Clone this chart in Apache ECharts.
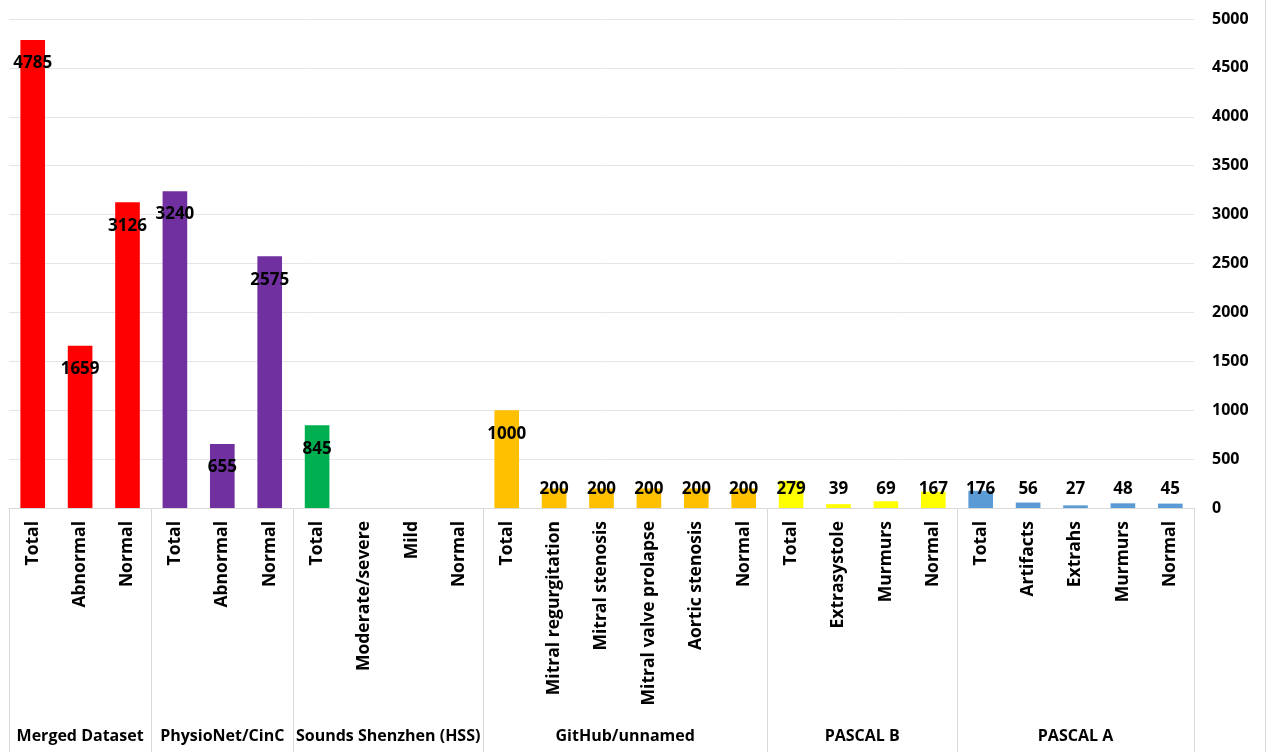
<!DOCTYPE html>
<html>
<head>
<meta charset="utf-8">
<title>Heart sound datasets</title>
<script src="https://cdn.jsdelivr.net/npm/echarts@6/dist/echarts.min.js"></script>
<style>
  html, body { margin: 0; padding: 0; background: #fff; }
  #chart { width: 1265px; height: 752px; border-right: 1px solid #d9d9d9; }
</style>
</head>
<body>
<div id="chart"></div>
<script>
// groups of bars, left to right
const groupNames = ['Merged Dataset', 'PhysioNet/CinC', 'Sounds Shenzhen (HSS)', 'GitHub/unnamed', 'PASCAL B', 'PASCAL A']
const groupSizes = [3, 3, 4, 6, 4, 5]
const groupColors = ['#ff0000', '#7030a0', '#00b050', '#ffc000', '#ffff00', '#5b9bd5']

// x axis categories
const categories = [
  'Total', 'Abnormal', 'Normal',
  'Total', 'Abnormal', 'Normal',
  'Total', 'Moderate/severe', 'Mild', 'Normal',
  'Total', 'Mitral regurgitation', 'Mitral stenosis', 'Mitral valve prolapse', 'Aortic stenosis', 'Normal',
  'Total', 'Extrasystole', 'Murmurs', 'Normal',
  'Total', 'Artifacts', 'Extrahs', 'Murmurs', 'Normal'
]
// number of recordings
const values = [
  4785, 1659, 3126,
  3240, 655, 2575,
  845, null, null, null,
  1000, 200, 200, 200, 200, 200,
  279, 39, 69, 167,
  176, 56, 27, 48, 45
]
const yTicks = { min: 0, max: 5000, interval: 500 }

const FONT = '"Open Sans", "Liberation Sans", sans-serif'

// group boundaries and centres on a 0..n scale
const bounds = [0]
groupSizes.forEach(function(s) { bounds.push(bounds[bounds.length - 1] + s) })
const centres = groupSizes.map(function(s, i) { return bounds[i] + s / 2 })

// colour per category
const barColors = []
groupSizes.forEach(function(s, i) {
  for (let k = 0; k < s; k++) barColors.push(groupColors[i])
})

const barData = values.map(function(v, i) {
  return {
    value: v,
    itemStyle: { color: barColors[i] },
    label: v > 430
      ? { position: 'insideTop', distance: 15 }
      : { position: 'insideBottom', distance: 10 }
  }
})

const myChart = echarts.init(document.getElementById('chart'))
const option = {
  animation: false,
  grid: { left: 9, right: 71, top: 19, bottom: 244, containLabel: false },
  xAxis: [
    {
      type: 'category',
      data: categories,
      axisLine: { lineStyle: { color: '#d9d9d9' } },
      axisTick: { show: false },
      axisLabel: {
        rotate: 90,
        interval: 0,
        margin: 13,
        color: '#000',
        fontFamily: FONT,
        fontWeight: 'bold',
        fontSize: 17.5
      }
    },
    {
      type: 'value',
      min: 0,
      max: categories.length,
      position: 'bottom',
      axisLine: { show: false },
      splitLine: { show: false },
      axisTick: {
        show: true,
        customValues: bounds,
        length: 244,
        lineStyle: { color: '#d9d9d9' }
      },
      axisLabel: {
        customValues: centres,
        margin: 220,
        color: '#000',
        fontFamily: FONT,
        fontWeight: 'bold',
        fontSize: 16,
        formatter: function(val) {
          const i = centres.indexOf(val)
          return i >= 0 ? groupNames[i] : ''
        }
      }
    }
  ],
  yAxis: {
    type: 'value',
    position: 'right',
    min: yTicks.min,
    max: yTicks.max,
    interval: yTicks.interval,
    axisLine: { show: false },
    axisTick: { show: false },
    splitLine: { lineStyle: { color: '#e4e4ea' } },
    axisLabel: {
      margin: 18,
      color: '#000',
      fontFamily: FONT,
      fontWeight: 'bold',
      fontSize: 16,
      formatter: function(v) { return String(v) }
    }
  },
  series: [
    {
      type: 'bar',
      xAxisIndex: 0,
      barWidth: '52%',
      data: barData,
      label: {
        show: true,
        color: '#000',
        fontFamily: FONT,
        fontWeight: 'bold',
        fontSize: 17
      }
    }
  ]
}
myChart.setOption(option)
</script>
</body>
</html>
